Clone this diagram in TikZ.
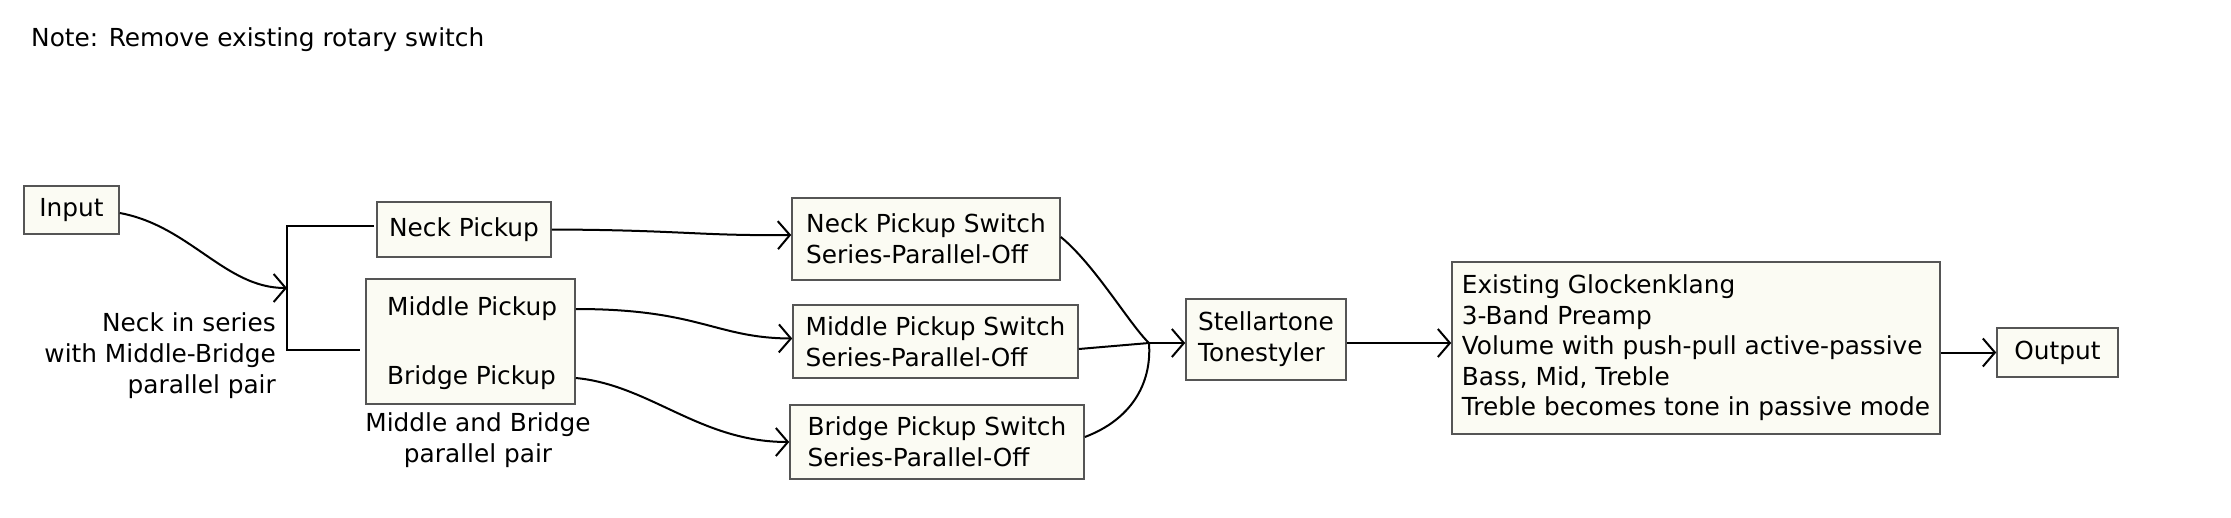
\documentclass[tikz,border=0pt]{standalone}
\usepackage{fontspec}
\setmainfont{DejaVu Sans}
\usetikzlibrary{arrows.meta,calc}
\definecolor{boxfill}{RGB}{251,251,243}
\definecolor{boxline}{RGB}{85,85,85}
\begin{document}
\begin{tikzpicture}[x=1pt,y=-1pt,
  every node/.style={font=\fontsize{24.8}{31}\selectfont, inner sep=0pt},
  box/.style={draw=boxline, fill=boxfill, line width=1.6pt, align=left},
  lbl/.style={align=center},
  conn/.style={line width=2pt, black},
  arr/.style={conn, -{Straight Barb[length=12pt,width=28pt,line width=2pt]}},
]
\useasboundingbox (0,0) rectangle (2231,517);

\node[anchor=west] (note) at (31,40) {Note: Remove existing rotary switch};

\node[box, minimum width=95pt, minimum height=48pt] (inp) at (71.5,210) {Input};
\node[box, minimum width=174pt, minimum height=55pt] (nk) at (464,229.5) {Neck Pickup};
\node[box, minimum width=209pt, minimum height=125pt] (mb) at (470.5,341.5) {};
\node[anchor=west] (mp) at (387,309) {Middle Pickup};
\node[anchor=west] (bp) at (387,378) {Bridge Pickup};
\node[lbl] (mbl) at (478,440) {Middle and Bridge\\parallel pair};
\node[align=right, anchor=east] (ser) at (276,355.5) {Neck in series\\with Middle-Bridge\\parallel pair};

\node[box, minimum width=268pt, minimum height=82pt] (ns) at (926,239) {Neck Pickup Switch\\Series-Parallel-Off};
\node[box, minimum width=285pt, minimum height=73pt] (ms) at (935.5,341.5) {Middle Pickup Switch\\Series-Parallel-Off};
\node[box, minimum width=294pt, minimum height=74pt] (bs) at (937,442) {Bridge Pickup Switch\\Series-Parallel-Off};

\node[box, minimum width=160pt, minimum height=81pt] (st) at (1266,339.5) {Stellartone\\Tonestyler};
\node[box, minimum width=488pt, minimum height=172pt, font=\fontsize{24.8}{30.5}\selectfont] (gl) at (1696,348) {Existing Glockenklang\\3-Band Preamp\\Volume with push-pull active-passive\\Bass, Mid, Treble\\Treble becomes tone in passive mode};
\node[box, minimum width=121pt, minimum height=49pt] (op) at (2057.5,352.5) {Output};

% junction
\coordinate (jt) at (287,226);
\coordinate (jb) at (287,350);
\coordinate (j) at (287,288);
\coordinate (m) at (1149,343);

\draw[conn] ([xshift=-2pt]nk.west |- jt) -- (jt) -- (jb) -- ([xshift=-5pt]mb.west |- jb);
\draw[arr] ([yshift=-3pt]inp.east) .. controls (190,226) and (225,288) .. (j);

\draw[arr] (nk.east) .. controls (680,230) and (700,236) .. ([yshift=4pt]ns.west);
\draw[arr] (mb.east |- mp) .. controls (700,309) and (715,338) .. ([yshift=3pt]ms.west);
\draw[arr] (mb.east |- bp) .. controls (650,385) and (700,442) .. (bs.west);

\draw[conn] ([yshift=2pt]ns.east) .. controls (1095,265) and (1130,325) .. (m);
\draw[conn] ([yshift=-7.5pt]ms.east) -- (m);
\draw[conn] ([yshift=5pt]bs.east) .. controls (1130,420) and (1152,385) .. (m);
\draw[arr] (m) -- (st.west |- m);

\draw[arr] ([yshift=-3.5pt]st.east) -- ([yshift=-3.5pt]st.east -| gl.west);
\draw[arr] (gl.east |- op.west) -- (op.west);
\end{tikzpicture}
\end{document}
